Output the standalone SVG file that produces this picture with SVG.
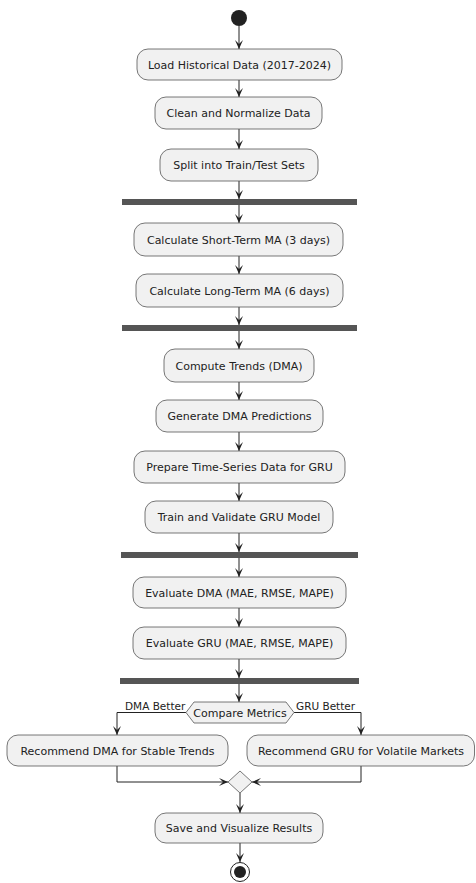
<svg xmlns="http://www.w3.org/2000/svg" width="476" height="883" viewBox="0 0 476 883">
<style>
.box{fill:#F1F1F1;stroke:#555555;stroke-width:0.8}
.bar{fill:#555555;stroke:none}
.t{font-family:"DejaVu Sans",sans-serif;font-size:11px;fill:#222222;text-anchor:middle}
.lbl{font-family:"DejaVu Sans",sans-serif;font-size:10.5px;fill:#222222}
.c{fill:none;stroke:#222222;stroke-width:1}
</style>
<defs>
<marker id="ah" viewBox="-10 -5 11 10" markerWidth="11" markerHeight="10" refX="0" refY="0" orient="auto" markerUnits="userSpaceOnUse">
<path d="M0,0 L-9,-4 L-5,0 L-9,4 Z" fill="#222222"/>
</marker>
</defs>
<rect width="476" height="883" fill="#FFFFFF"/>
<g id="connectors">
<line class="c" x1="239" y1="26" x2="239" y2="49" marker-end="url(#ah)"/>
<line class="c" x1="239" y1="80" x2="239" y2="97" marker-end="url(#ah)"/>
<line class="c" x1="239" y1="129" x2="239" y2="149" marker-end="url(#ah)"/>
<line class="c" x1="239" y1="181" x2="239" y2="199" marker-end="url(#ah)"/>
<line class="c" x1="239" y1="205" x2="239" y2="223" marker-end="url(#ah)"/>
<line class="c" x1="239" y1="256" x2="239" y2="274" marker-end="url(#ah)"/>
<line class="c" x1="239" y1="307" x2="239" y2="325" marker-end="url(#ah)"/>
<line class="c" x1="239" y1="331" x2="239" y2="349" marker-end="url(#ah)"/>
<line class="c" x1="239" y1="382" x2="239" y2="400" marker-end="url(#ah)"/>
<line class="c" x1="239" y1="432" x2="239" y2="451" marker-end="url(#ah)"/>
<line class="c" x1="239" y1="483" x2="239" y2="501" marker-end="url(#ah)"/>
<line class="c" x1="239" y1="533" x2="239" y2="552" marker-end="url(#ah)"/>
<line class="c" x1="239" y1="558" x2="239" y2="577" marker-end="url(#ah)"/>
<line class="c" x1="239" y1="608" x2="239" y2="627" marker-end="url(#ah)"/>
<line class="c" x1="239" y1="659" x2="239" y2="678" marker-end="url(#ah)"/>
<line class="c" x1="239" y1="684" x2="239" y2="702" marker-end="url(#ah)"/>
<polyline class="c" points="186,712.5 117,712.5 117,735" marker-end="url(#ah)"/>
<polyline class="c" points="294,712.5 361,712.5 361,735" marker-end="url(#ah)"/>
<polyline class="c" points="117,766 117,782 228,782" marker-end="url(#ah)"/>
<polyline class="c" points="361,766 361,782 252,782" marker-end="url(#ah)"/>
<line class="c" x1="240" y1="793" x2="240" y2="813" marker-end="url(#ah)"/>
<line class="c" x1="240" y1="843" x2="240" y2="862" marker-end="url(#ah)"/>
<text class="lbl" x="125" y="710">DMA Better</text>
<text class="lbl" x="296" y="710">GRU Better</text>
</g>
<g id="start"><circle cx="239" cy="18" r="8" fill="#222222"/></g>
<g id="n1"><rect class="box" x="137" y="49" width="205" height="31" rx="11"/><text class="t" x="239.5" y="68.5">Load Historical Data (2017-2024)</text></g>
<g id="n2"><rect class="box" x="155" y="97" width="167" height="32" rx="11"/><text class="t" x="238.5" y="117">Clean and Normalize Data</text></g>
<g id="n3"><rect class="box" x="160" y="149" width="158" height="32" rx="11"/><text class="t" x="239" y="169">Split into Train/Test Sets</text></g>
<g id="fork1"><rect class="bar" x="122" y="199" width="235" height="6"/></g>
<g id="n4"><rect class="box" x="134" y="223" width="209" height="33" rx="11"/><text class="t" x="238.5" y="243.5">Calculate Short-Term MA (3 days)</text></g>
<g id="n5"><rect class="box" x="136" y="274" width="207" height="33" rx="11"/><text class="t" x="239.5" y="294.5">Calculate Long-Term MA (6 days)</text></g>
<g id="join1"><rect class="bar" x="122" y="325" width="235" height="6"/></g>
<g id="n6"><rect class="box" x="164" y="349" width="150" height="33" rx="11"/><text class="t" x="239" y="369.5">Compute Trends (DMA)</text></g>
<g id="n7"><rect class="box" x="156" y="400" width="167" height="32" rx="11"/><text class="t" x="239.5" y="420">Generate DMA Predictions</text></g>
<g id="n8"><rect class="box" x="134" y="451" width="211" height="32" rx="11"/><text class="t" x="239.5" y="471">Prepare Time-Series Data for GRU</text></g>
<g id="n9"><rect class="box" x="145" y="501" width="188" height="32" rx="11"/><text class="t" x="239" y="521">Train and Validate GRU Model</text></g>
<g id="fork2"><rect class="bar" x="121" y="552" width="237" height="6"/></g>
<g id="n10"><rect class="box" x="133" y="577" width="213" height="31" rx="11"/><text class="t" x="239.5" y="596.5">Evaluate DMA (MAE, RMSE, MAPE)</text></g>
<g id="n11"><rect class="box" x="133" y="627" width="213" height="32" rx="11"/><text class="t" x="239.5" y="647">Evaluate GRU (MAE, RMSE, MAPE)</text></g>
<g id="join2"><rect class="bar" x="120" y="678" width="239" height="6"/></g>
<g id="decision"><polygon class="box" points="186,712.5 194,702 286,702 294,712.5 286,723 194,723"/><text class="t" x="240" y="716.5">Compare Metrics</text></g>
<g id="n12"><rect class="box" x="7" y="735" width="221" height="31" rx="11"/><text class="t" x="117.5" y="754.5">Recommend DMA for Stable Trends</text></g>
<g id="n13"><rect class="box" x="247" y="735" width="227.5" height="31" rx="11"/><text class="t" x="361" y="754.5">Recommend GRU for Volatile Markets</text></g>
<g id="merge"><polygon class="box" points="240,771 252,782 240,793 228,782"/></g>
<g id="n14"><rect class="box" x="155" y="813" width="168" height="30" rx="11"/><text class="t" x="239" y="832">Save and Visualize Results</text></g>
<g id="end"><circle cx="240" cy="872" r="9.5" fill="none" stroke="#222222" stroke-width="1"/><circle cx="240" cy="872" r="6" fill="#222222"/></g>
</svg>
